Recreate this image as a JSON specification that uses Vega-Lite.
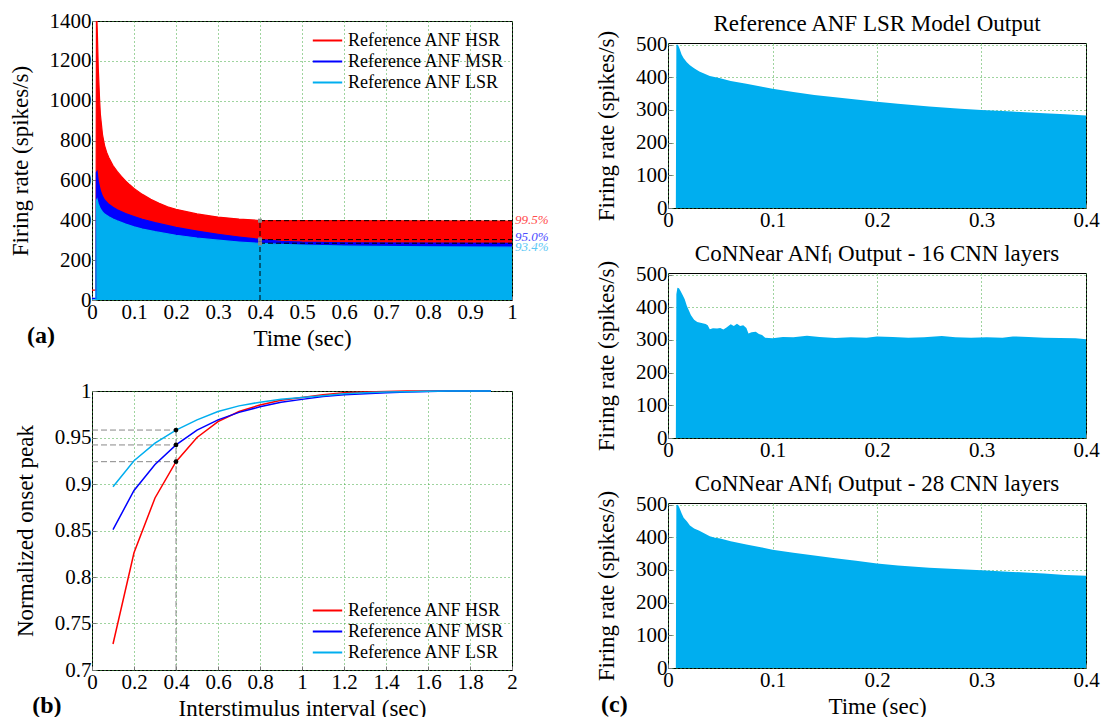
{
  "$schema": "https://vega.github.io/schema/vega-lite/v6.json",
  "background": "white",
  "padding": {"left": 8, "top": 9, "right": 5, "bottom": 0},
  "spacing": 45,
  "resolve": {"scale": {"color": "independent"}, "legend": {"color": "independent"}},
  "datasets": {
    "a_env": [
      {"x": 0, "y": 50, "s": "Reference ANF HSR"}, {"x": 0.0095, "y": 50, "s": "Reference ANF HSR"}, {"x": 0.0105, "y": 1400, "s": "Reference ANF HSR"}, {"x": 0.0118, "y": 1400, "s": "Reference ANF HSR"}, {"x": 0.013, "y": 1320, "s": "Reference ANF HSR"}, {"x": 0.015, "y": 1160, "s": "Reference ANF HSR"}, {"x": 0.018, "y": 1010, "s": "Reference ANF HSR"}, {"x": 0.02, "y": 930, "s": "Reference ANF HSR"}, {"x": 0.025, "y": 830, "s": "Reference ANF HSR"}, {"x": 0.03, "y": 775, "s": "Reference ANF HSR"}, {"x": 0.035, "y": 740, "s": "Reference ANF HSR"}, {"x": 0.04, "y": 715, "s": "Reference ANF HSR"}, {"x": 0.05, "y": 675, "s": "Reference ANF HSR"}, {"x": 0.06, "y": 645, "s": "Reference ANF HSR"}, {"x": 0.07, "y": 620, "s": "Reference ANF HSR"}, {"x": 0.08, "y": 598, "s": "Reference ANF HSR"}, {"x": 0.09, "y": 578, "s": "Reference ANF HSR"}, {"x": 0.1, "y": 560, "s": "Reference ANF HSR"}, {"x": 0.12, "y": 530, "s": "Reference ANF HSR"}, {"x": 0.14, "y": 505, "s": "Reference ANF HSR"}, {"x": 0.16, "y": 485, "s": "Reference ANF HSR"}, {"x": 0.18, "y": 468, "s": "Reference ANF HSR"}, {"x": 0.2, "y": 455, "s": "Reference ANF HSR"}, {"x": 0.25, "y": 432, "s": "Reference ANF HSR"}, {"x": 0.3, "y": 416, "s": "Reference ANF HSR"}, {"x": 0.35, "y": 406, "s": "Reference ANF HSR"}, {"x": 0.4, "y": 399, "s": "Reference ANF HSR"}, {"x": 0.6, "y": 398, "s": "Reference ANF HSR"}, {"x": 0.8, "y": 397, "s": "Reference ANF HSR"}, {"x": 1, "y": 396, "s": "Reference ANF HSR"},
      {"x": 0, "y": 8, "s": "Reference ANF MSR"}, {"x": 0.0095, "y": 8, "s": "Reference ANF MSR"}, {"x": 0.0105, "y": 640, "s": "Reference ANF MSR"}, {"x": 0.012, "y": 645, "s": "Reference ANF MSR"}, {"x": 0.015, "y": 595, "s": "Reference ANF MSR"}, {"x": 0.02, "y": 548, "s": "Reference ANF MSR"}, {"x": 0.025, "y": 520, "s": "Reference ANF MSR"}, {"x": 0.03, "y": 502, "s": "Reference ANF MSR"}, {"x": 0.04, "y": 480, "s": "Reference ANF MSR"}, {"x": 0.05, "y": 465, "s": "Reference ANF MSR"}, {"x": 0.06, "y": 453, "s": "Reference ANF MSR"}, {"x": 0.08, "y": 434, "s": "Reference ANF MSR"}, {"x": 0.1, "y": 419, "s": "Reference ANF MSR"}, {"x": 0.12, "y": 405, "s": "Reference ANF MSR"}, {"x": 0.15, "y": 388, "s": "Reference ANF MSR"}, {"x": 0.2, "y": 364, "s": "Reference ANF MSR"}, {"x": 0.25, "y": 346, "s": "Reference ANF MSR"}, {"x": 0.3, "y": 330, "s": "Reference ANF MSR"}, {"x": 0.35, "y": 316, "s": "Reference ANF MSR"}, {"x": 0.4, "y": 304, "s": "Reference ANF MSR"}, {"x": 0.45, "y": 294, "s": "Reference ANF MSR"}, {"x": 0.5, "y": 290, "s": "Reference ANF MSR"}, {"x": 0.6, "y": 287, "s": "Reference ANF MSR"}, {"x": 0.8, "y": 285, "s": "Reference ANF MSR"}, {"x": 1, "y": 284, "s": "Reference ANF MSR"},
      {"x": 0, "y": 1, "s": "Reference ANF LSR"}, {"x": 0.0095, "y": 1, "s": "Reference ANF LSR"}, {"x": 0.0105, "y": 500, "s": "Reference ANF LSR"}, {"x": 0.012, "y": 506, "s": "Reference ANF LSR"}, {"x": 0.015, "y": 482, "s": "Reference ANF LSR"}, {"x": 0.02, "y": 457, "s": "Reference ANF LSR"}, {"x": 0.025, "y": 442, "s": "Reference ANF LSR"}, {"x": 0.03, "y": 431, "s": "Reference ANF LSR"}, {"x": 0.04, "y": 418, "s": "Reference ANF LSR"}, {"x": 0.05, "y": 406, "s": "Reference ANF LSR"}, {"x": 0.06, "y": 397, "s": "Reference ANF LSR"}, {"x": 0.08, "y": 381, "s": "Reference ANF LSR"}, {"x": 0.1, "y": 367, "s": "Reference ANF LSR"}, {"x": 0.12, "y": 356, "s": "Reference ANF LSR"}, {"x": 0.15, "y": 343, "s": "Reference ANF LSR"}, {"x": 0.2, "y": 325, "s": "Reference ANF LSR"}, {"x": 0.25, "y": 311, "s": "Reference ANF LSR"}, {"x": 0.3, "y": 300, "s": "Reference ANF LSR"}, {"x": 0.35, "y": 291, "s": "Reference ANF LSR"}, {"x": 0.4, "y": 284, "s": "Reference ANF LSR"}, {"x": 0.45, "y": 279, "s": "Reference ANF LSR"}, {"x": 0.5, "y": 276, "s": "Reference ANF LSR"}, {"x": 0.6, "y": 271, "s": "Reference ANF LSR"}, {"x": 0.8, "y": 267, "s": "Reference ANF LSR"}, {"x": 1, "y": 265, "s": "Reference ANF LSR"}
    ],
    "a_rules": [
      {"x": 0.4, "x2": 1, "y": 398, "y2": 398},
      {"x": 0.4, "x2": 1, "y": 303, "y2": 303},
      {"x": 0.4, "x2": 1, "y": 285, "y2": 285},
      {"x": 0.4, "x2": 0.4, "y": 0, "y2": 398}
    ],
    "a_pts": [{"x": 0.4, "y": 398}, {"x": 0.4, "y": 304}, {"x": 0.4, "y": 284}],
    "a_txt": [
      {"x": 1, "y": 401, "label": "99.5%", "s": "Reference ANF HSR"},
      {"x": 1, "y": 316, "label": "95.0%", "s": "Reference ANF MSR"},
      {"x": 1, "y": 268, "label": "93.4%", "s": "Reference ANF LSR"}
    ],
    "b_lines": [
      {"x": 0.1, "y": 0.728, "s": "Reference ANF HSR"}, {"x": 0.2, "y": 0.826, "s": "Reference ANF HSR"}, {"x": 0.3, "y": 0.885, "s": "Reference ANF HSR"}, {"x": 0.4, "y": 0.924, "s": "Reference ANF HSR"}, {"x": 0.5, "y": 0.95, "s": "Reference ANF HSR"}, {"x": 0.6, "y": 0.967, "s": "Reference ANF HSR"}, {"x": 0.7, "y": 0.978, "s": "Reference ANF HSR"}, {"x": 0.8, "y": 0.985, "s": "Reference ANF HSR"}, {"x": 0.9, "y": 0.99, "s": "Reference ANF HSR"}, {"x": 1.0, "y": 0.993, "s": "Reference ANF HSR"}, {"x": 1.1, "y": 0.996, "s": "Reference ANF HSR"}, {"x": 1.2, "y": 0.998, "s": "Reference ANF HSR"}, {"x": 1.3, "y": 0.999, "s": "Reference ANF HSR"}, {"x": 1.4, "y": 0.9995, "s": "Reference ANF HSR"}, {"x": 1.5, "y": 1, "s": "Reference ANF HSR"}, {"x": 1.6, "y": 1, "s": "Reference ANF HSR"}, {"x": 1.7, "y": 1, "s": "Reference ANF HSR"}, {"x": 1.8, "y": 1, "s": "Reference ANF HSR"}, {"x": 1.9, "y": 1, "s": "Reference ANF HSR"},
      {"x": 0.1, "y": 0.851, "s": "Reference ANF MSR"}, {"x": 0.2, "y": 0.893, "s": "Reference ANF MSR"}, {"x": 0.3, "y": 0.921, "s": "Reference ANF MSR"}, {"x": 0.4, "y": 0.942, "s": "Reference ANF MSR"}, {"x": 0.5, "y": 0.958, "s": "Reference ANF MSR"}, {"x": 0.6, "y": 0.969, "s": "Reference ANF MSR"}, {"x": 0.7, "y": 0.977, "s": "Reference ANF MSR"}, {"x": 0.8, "y": 0.983, "s": "Reference ANF MSR"}, {"x": 0.9, "y": 0.988, "s": "Reference ANF MSR"}, {"x": 1.0, "y": 0.991, "s": "Reference ANF MSR"}, {"x": 1.1, "y": 0.994, "s": "Reference ANF MSR"}, {"x": 1.2, "y": 0.996, "s": "Reference ANF MSR"}, {"x": 1.3, "y": 0.997, "s": "Reference ANF MSR"}, {"x": 1.4, "y": 0.998, "s": "Reference ANF MSR"}, {"x": 1.5, "y": 0.999, "s": "Reference ANF MSR"}, {"x": 1.6, "y": 0.9995, "s": "Reference ANF MSR"}, {"x": 1.7, "y": 1, "s": "Reference ANF MSR"}, {"x": 1.8, "y": 1, "s": "Reference ANF MSR"}, {"x": 1.9, "y": 1, "s": "Reference ANF MSR"},
      {"x": 0.1, "y": 0.897, "s": "Reference ANF LSR"}, {"x": 0.2, "y": 0.925, "s": "Reference ANF LSR"}, {"x": 0.3, "y": 0.944, "s": "Reference ANF LSR"}, {"x": 0.4, "y": 0.958, "s": "Reference ANF LSR"}, {"x": 0.5, "y": 0.969, "s": "Reference ANF LSR"}, {"x": 0.6, "y": 0.978, "s": "Reference ANF LSR"}, {"x": 0.7, "y": 0.984, "s": "Reference ANF LSR"}, {"x": 0.8, "y": 0.988, "s": "Reference ANF LSR"}, {"x": 0.9, "y": 0.991, "s": "Reference ANF LSR"}, {"x": 1.0, "y": 0.993, "s": "Reference ANF LSR"}, {"x": 1.1, "y": 0.995, "s": "Reference ANF LSR"}, {"x": 1.2, "y": 0.997, "s": "Reference ANF LSR"}, {"x": 1.3, "y": 0.998, "s": "Reference ANF LSR"}, {"x": 1.4, "y": 0.999, "s": "Reference ANF LSR"}, {"x": 1.5, "y": 0.9993, "s": "Reference ANF LSR"}, {"x": 1.6, "y": 0.9996, "s": "Reference ANF LSR"}, {"x": 1.7, "y": 1, "s": "Reference ANF LSR"}, {"x": 1.8, "y": 1, "s": "Reference ANF LSR"}, {"x": 1.9, "y": 1, "s": "Reference ANF LSR"}
    ],
    "b_rules": [
      {"x": 0, "x2": 0.4, "y": 0.958, "y2": 0.958},
      {"x": 0, "x2": 0.4, "y": 0.942, "y2": 0.942},
      {"x": 0, "x2": 0.4, "y": 0.924, "y2": 0.924},
      {"x": 0.4, "x2": 0.4, "y": 0.7, "y2": 0.958}
    ],
    "b_pts": [{"x": 0.4, "y": 0.958}, {"x": 0.4, "y": 0.942}, {"x": 0.4, "y": 0.924}],
    "c1": [
      {"t": 0, "r": 0}, {"t": 0.0075, "r": 0}, {"t": 0.008, "r": 500}, {"t": 0.0095, "r": 500}, {"t": 0.011, "r": 488}, {"t": 0.013, "r": 470}, {"t": 0.015, "r": 458}, {"t": 0.018, "r": 446}, {"t": 0.021, "r": 437}, {"t": 0.025, "r": 428}, {"t": 0.03, "r": 418}, {"t": 0.035, "r": 411}, {"t": 0.04, "r": 404}, {"t": 0.05, "r": 397}, {"t": 0.06, "r": 389}, {"t": 0.075, "r": 380}, {"t": 0.09, "r": 371}, {"t": 0.1, "r": 365}, {"t": 0.12, "r": 355}, {"t": 0.14, "r": 346}, {"t": 0.16, "r": 339}, {"t": 0.18, "r": 332}, {"t": 0.2, "r": 325}, {"t": 0.22, "r": 319}, {"t": 0.25, "r": 311}, {"t": 0.28, "r": 304}, {"t": 0.3, "r": 300}, {"t": 0.33, "r": 295}, {"t": 0.36, "r": 290}, {"t": 0.38, "r": 287}, {"t": 0.4, "r": 283}
    ],
    "c2": [
      {"t": 0, "r": 0}, {"t": 0.0075, "r": 0}, {"t": 0.008, "r": 440}, {"t": 0.009, "r": 460}, {"t": 0.0105, "r": 458}, {"t": 0.012, "r": 450}, {"t": 0.014, "r": 438}, {"t": 0.016, "r": 425}, {"t": 0.018, "r": 405}, {"t": 0.02, "r": 390}, {"t": 0.022, "r": 376}, {"t": 0.025, "r": 362}, {"t": 0.028, "r": 355}, {"t": 0.032, "r": 352}, {"t": 0.036, "r": 349}, {"t": 0.038, "r": 345}, {"t": 0.04, "r": 333}, {"t": 0.043, "r": 336}, {"t": 0.047, "r": 335}, {"t": 0.05, "r": 337}, {"t": 0.053, "r": 332}, {"t": 0.056, "r": 338}, {"t": 0.06, "r": 348}, {"t": 0.063, "r": 343}, {"t": 0.066, "r": 350}, {"t": 0.069, "r": 343}, {"t": 0.072, "r": 345}, {"t": 0.075, "r": 337}, {"t": 0.077, "r": 320}, {"t": 0.08, "r": 324}, {"t": 0.084, "r": 325}, {"t": 0.087, "r": 318}, {"t": 0.09, "r": 315}, {"t": 0.093, "r": 307}, {"t": 0.1, "r": 305}, {"t": 0.11, "r": 309}, {"t": 0.12, "r": 308}, {"t": 0.133, "r": 313}, {"t": 0.145, "r": 309}, {"t": 0.16, "r": 306}, {"t": 0.175, "r": 308}, {"t": 0.19, "r": 307}, {"t": 0.2, "r": 311}, {"t": 0.215, "r": 309}, {"t": 0.23, "r": 307}, {"t": 0.245, "r": 308}, {"t": 0.262, "r": 312}, {"t": 0.275, "r": 308}, {"t": 0.29, "r": 307}, {"t": 0.305, "r": 308}, {"t": 0.32, "r": 307}, {"t": 0.33, "r": 311}, {"t": 0.345, "r": 309}, {"t": 0.36, "r": 307}, {"t": 0.375, "r": 306}, {"t": 0.39, "r": 305}, {"t": 0.4, "r": 302}
    ],
    "c3": [
      {"t": 0, "r": 0}, {"t": 0.0075, "r": 0}, {"t": 0.008, "r": 498}, {"t": 0.0095, "r": 500}, {"t": 0.011, "r": 490}, {"t": 0.013, "r": 474}, {"t": 0.015, "r": 460}, {"t": 0.018, "r": 449}, {"t": 0.021, "r": 436}, {"t": 0.025, "r": 427}, {"t": 0.03, "r": 420}, {"t": 0.035, "r": 412}, {"t": 0.04, "r": 403}, {"t": 0.045, "r": 399}, {"t": 0.05, "r": 396}, {"t": 0.06, "r": 388}, {"t": 0.075, "r": 378}, {"t": 0.09, "r": 369}, {"t": 0.1, "r": 362}, {"t": 0.12, "r": 353}, {"t": 0.14, "r": 344}, {"t": 0.16, "r": 336}, {"t": 0.18, "r": 328}, {"t": 0.2, "r": 320}, {"t": 0.22, "r": 314}, {"t": 0.25, "r": 307}, {"t": 0.28, "r": 302}, {"t": 0.3, "r": 299}, {"t": 0.33, "r": 294}, {"t": 0.36, "r": 289}, {"t": 0.38, "r": 285}, {"t": 0.4, "r": 282}
    ]
  },
  "hconcat": [
    {
      "bounds": "flush",
      "spacing": 91,
      "resolve": {"scale": {"color": "independent"}, "legend": {"color": "independent"}},
      "vconcat": [
        {
          "width": 420,
          "height": 279,
          "title": {"text": "(a)", "orient": "bottom", "anchor": "start", "fontWeight": "bold", "fontSize": 24, "offset": -26, "dx": 18},
          "resolve": {"scale": {"color": "independent"}, "legend": {"color": "independent"}},
          "encoding": {
            "x": {"field": "x", "type": "quantitative", "scale": {"domain": [0, 1], "nice": false}, "axis": {"values": [0, 0.1, 0.2, 0.3, 0.4, 0.5, 0.6, 0.7, 0.8, 0.9, 1], "format": "~g", "title": "Time (sec)", "labelOverlap": false}},
            "y": {"field": "y", "type": "quantitative", "stack": null, "scale": {"domain": [0, 1400], "nice": false}, "axis": {"values": [0, 200, 400, 600, 800, 1000, 1200, 1400], "format": "d", "title": "Firing rate (spikes/s)", "labelOverlap": false}}
          },
          "layer": [
            {
              "data": {"name": "a_env"},
              "transform": [{"filter": "datum.s === 'Reference ANF HSR' && datum.x >= 0.0095"}],
              "mark": {"type": "area", "clip": true, "color": "#ff0000"}
            },
            {
              "data": {"name": "a_env"},
              "transform": [{"filter": "datum.s === 'Reference ANF MSR' && datum.x >= 0.0095"}],
              "mark": {"type": "area", "clip": true, "color": "#0000ff"}
            },
            {
              "data": {"name": "a_env"},
              "transform": [{"filter": "datum.s === 'Reference ANF LSR' && datum.x >= 0.0095"}],
              "mark": {"type": "area", "clip": true, "color": "#00aeef"}
            },
            {
              "data": {"name": "a_env"},
              "mark": {"type": "line", "clip": true, "strokeWidth": 1.2},
              "encoding": {
                "color": {"field": "s", "type": "nominal", "scale": {"domain": ["Reference ANF HSR", "Reference ANF MSR", "Reference ANF LSR"], "range": ["#ff0000", "#0000ff", "#00aeef"]}, "legend": {"title": null, "orient": "top-right", "offset": 8}}
              }
            },
            {
              "data": {"name": "a_rules"},
              "mark": {"type": "rule", "color": "black", "strokeDash": [5, 3], "strokeWidth": 1},
              "encoding": {"x2": {"field": "x2"}, "y2": {"field": "y2"}}
            },
            {
              "data": {"name": "a_pts"},
              "mark": {"type": "square", "color": "#888888", "opacity": 1, "size": 16, "filled": true}
            },
            {
              "data": {"name": "a_txt"},
              "mark": {"type": "text", "align": "left", "baseline": "middle", "dx": 3, "fontStyle": "italic", "fontSize": 13, "font": "Liberation Serif"},
              "encoding": {
                "text": {"field": "label"},
                "color": {"field": "s", "type": "nominal", "scale": {"domain": ["Reference ANF HSR", "Reference ANF MSR", "Reference ANF LSR"], "range": ["#ff4d4d", "#4d4dff", "#5cc8f5"]}, "legend": null}
              }
            }
          ]
        },
        {
          "width": 420,
          "height": 279,
          "title": {"text": "(b)", "orient": "bottom", "anchor": "start", "fontWeight": "bold", "fontSize": 24, "offset": -26, "dx": 18},
          "encoding": {
            "x": {"field": "x", "type": "quantitative", "scale": {"domain": [0, 2], "nice": false}, "axis": {"values": [0, 0.2, 0.4, 0.6, 0.8, 1, 1.2, 1.4, 1.6, 1.8, 2], "format": "~g", "title": "Interstimulus interval (sec)", "labelOverlap": false}},
            "y": {"field": "y", "type": "quantitative", "scale": {"domain": [0.7, 1], "nice": false, "zero": false}, "axis": {"values": [0.7, 0.75, 0.8, 0.85, 0.9, 0.95, 1], "format": "~g", "title": "Normalized onset peak", "labelOverlap": false}}
          },
          "layer": [
            {
              "data": {"name": "b_rules"},
              "mark": {"type": "rule", "color": "#888888", "strokeDash": [6, 3], "strokeWidth": 1},
              "encoding": {"x2": {"field": "x2"}, "y2": {"field": "y2"}}
            },
            {
              "data": {"name": "b_lines"},
              "mark": {"type": "line", "strokeWidth": 1.5},
              "encoding": {
                "color": {"field": "s", "type": "nominal", "scale": {"domain": ["Reference ANF HSR", "Reference ANF MSR", "Reference ANF LSR"], "range": ["#ff0000", "#0000ff", "#00aeef"]}, "legend": {"title": null, "orient": "bottom-right", "offset": 8}}
              }
            },
            {
              "data": {"name": "b_pts"},
              "mark": {"type": "circle", "color": "black", "opacity": 1, "size": 22}
            }
          ]
        }
      ]
    },
    {
      "bounds": "flush",
      "spacing": 21,
      "title": {"text": "(c)", "orient": "bottom", "anchor": "start", "fontWeight": "bold", "fontSize": 24, "offset": -26, "dx": 6},
      "vconcat": [
        {
          "width": 418,
          "height": 1,
          "view": {"stroke": null},
          "data": {"values": []},
          "mark": {"type": "rule", "opacity": 0},
          "encoding": {}
        },
        {
          "bounds": "flush",
          "spacing": 65,
          "vconcat": [
            {
              "width": 418,
              "height": 165,
              "title": {"text": "Reference ANF LSR Model Output", "offset": -6},
              "data": {"name": "c1"},
              "mark": {"type": "area", "color": "#00aeef"},
              "encoding": {
                "x": {"field": "t", "type": "quantitative", "scale": {"domain": [0, 0.4], "nice": false}, "axis": {"values": [0, 0.1, 0.2, 0.3, 0.4], "format": "~g", "title": null, "labelOverlap": false}},
                "y": {"field": "r", "type": "quantitative", "scale": {"domain": [0, 505], "nice": false}, "axis": {"values": [0, 100, 200, 300, 400, 500], "format": "d", "title": "Firing rate (spikes/s)", "labelOverlap": false}}
              }
            },
            {
              "width": 418,
              "height": 165,
              "title": {"text": "CoNNear ANfₗ Output - 16 CNN layers", "offset": -6},
              "data": {"name": "c2"},
              "mark": {"type": "area", "color": "#00aeef"},
              "encoding": {
                "x": {"field": "t", "type": "quantitative", "scale": {"domain": [0, 0.4], "nice": false}, "axis": {"values": [0, 0.1, 0.2, 0.3, 0.4], "format": "~g", "title": null, "labelOverlap": false}},
                "y": {"field": "r", "type": "quantitative", "scale": {"domain": [0, 505], "nice": false}, "axis": {"values": [0, 100, 200, 300, 400, 500], "format": "d", "title": "Firing rate (spikes/s)", "labelOverlap": false}}
              }
            },
            {
              "width": 418,
              "height": 165,
              "title": {"text": "CoNNear ANfₗ Output - 28 CNN layers", "offset": -6},
              "data": {"name": "c3"},
              "mark": {"type": "area", "color": "#00aeef"},
              "encoding": {
                "x": {"field": "t", "type": "quantitative", "scale": {"domain": [0, 0.4], "nice": false}, "axis": {"values": [0, 0.1, 0.2, 0.3, 0.4], "format": "~g", "title": "Time (sec)", "labelOverlap": false}},
                "y": {"field": "r", "type": "quantitative", "scale": {"domain": [0, 505], "nice": false}, "axis": {"values": [0, 100, 200, 300, 400, 500], "format": "d", "title": "Firing rate (spikes/s)", "labelOverlap": false}}
              }
            }
          ]
        }
      ]
    }
  ],
  "config": {
    "font": "Liberation Serif",
    "view": {"stroke": "black", "strokeWidth": 1},
    "axis": {
      "grid": true, "gridColor": "#3fa83f", "gridDash": [1, 3], "gridWidth": 1,
      "domain": false, "ticks": true, "tickColor": "#777777", "tickSize": -4, "tickWidth": 1,
      "labelPadding": 5, "labelFont": "Liberation Serif", "labelFontSize": 21, "labelColor": "black",
      "labelFlush": false, "labelOverlap": false,
      "titleFont": "Liberation Serif", "titleFontSize": 23, "titleFontWeight": "normal", "titleColor": "black", "titlePadding": 17
    },
    "axisX": {"titlePadding": 5},
    "title": {"font": "Liberation Serif", "fontSize": 23, "fontWeight": "normal", "color": "black", "offset": 12},
    "legend": {
      "labelFont": "Liberation Serif", "labelFontSize": 18, "labelColor": "black",
      "symbolType": "M-1.4,0L1.4,0", "symbolSize": 441, "symbolStrokeWidth": 2,
      "rowPadding": 0, "labelOffset": 9, "padding": 0
    }
  }
}
